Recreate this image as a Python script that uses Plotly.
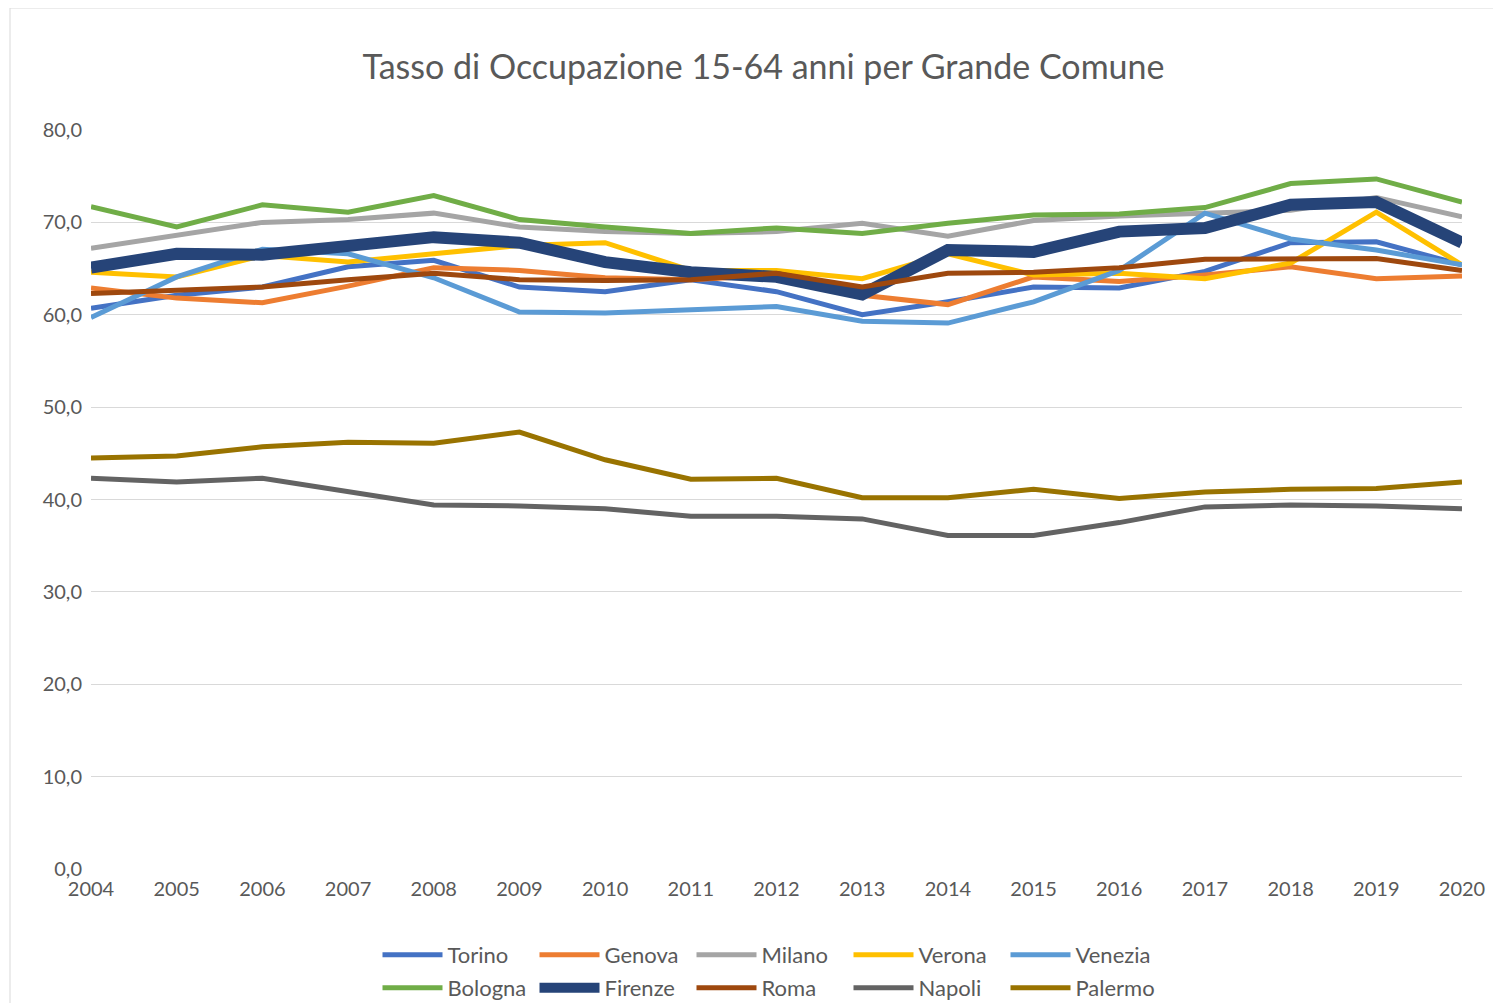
import plotly.graph_objects as go

years = list(range(2004, 2021))

torino  = [60.7, 62.1, 63.0, 65.2, 65.9, 63.0, 62.5, 63.8, 62.5, 60.0, 61.4, 63.0, 62.9, 64.7, 67.8, 67.9, 65.4]
genova  = [62.9, 61.8, 61.3, 63.1, 65.1, 64.8, 64.0, 63.8, 64.3, 62.1, 61.1, 64.1, 63.6, 64.3, 65.2, 63.9, 64.2]
milano  = [67.2, 68.6, 70.0, 70.3, 71.0, 69.5, 69.0, 68.8, 69.0, 69.9, 68.5, 70.2, 70.7, 71.0, 71.3, 72.7, 70.6]
verona  = [64.6, 64.1, 66.4, 65.7, 66.6, 67.5, 67.8, 64.8, 64.8, 63.9, 66.6, 64.3, 64.5, 63.9, 65.6, 71.1, 65.4]
venezia = [59.7, 64.1, 67.1, 66.6, 64.0, 60.3, 60.2, 60.6, 60.9, 59.3, 59.1, 61.4, 64.8, 71.0, 68.2, 67.0, 65.4]
bologna = [71.7, 69.5, 71.9, 71.1, 72.9, 70.3, 69.5, 68.8, 69.4, 68.8, 69.9, 70.8, 70.9, 71.6, 74.2, 74.7, 72.2]
firenze = [65.1, 66.6, 66.5, 67.5, 68.4, 67.8, 65.7, 64.6, 64.1, 62.2, 67.0, 66.8, 69.0, 69.4, 71.9, 72.2, 67.8]
roma    = [62.3, 62.6, 63.0, 63.8, 64.5, 63.8, 63.7, 63.8, 64.5, 63.0, 64.5, 64.6, 65.1, 66.0, 66.1, 66.1, 64.8]
napoli  = [42.3, 41.9, 42.3, 40.9, 39.4, 39.3, 39.0, 38.2, 38.2, 37.9, 36.1, 36.1, 37.5, 39.2, 39.4, 39.3, 39.0]
palermo = [44.5, 44.7, 45.7, 46.2, 46.1, 47.3, 44.3, 42.2, 42.3, 40.2, 40.2, 41.1, 40.1, 40.8, 41.1, 41.2, 41.9]

names  = ["Torino", "Genova", "Milano", "Verona", "Venezia",
          "Bologna", "Firenze", "Roma", "Napoli", "Palermo"]
series = [torino, genova, milano, verona, venezia,
          bologna, firenze, roma, napoli, palermo]
colors = ["#4472C4", "#ED7D31", "#A5A5A5", "#FFC000", "#5B9BD5",
          "#70AD47", "#264478", "#9E480E", "#636363", "#997300"]
widths = [5, 5, 5, 5, 5, 5, 12, 5, 5, 5]

title_text = "Tasso di Occupazione 15-64 anni per Grande Comune"
y_ticks = [0, 10, 20, 30, 40, 50, 60, 70, 80]

W, H = 1501, 1003
OFF = 8  # page body margin
PL, PR, PT, PB = 91 - OFF, 1462 - OFF, 130 - OFF, 869 - OFF
L, R, T, B = PL, W - PR, PT, H - PB
FONT = "Lato"
TXT = "#595959"

fig = go.Figure()
for i, (n, s, c, w) in enumerate(zip(names, series, colors, widths)):
    fig.add_trace(go.Scatter(
        x=years, y=s, name=n, mode="lines",
        line=dict(color=c, width=w),
        legend="legend" if i < 5 else "legend2",
    ))

pw = PR - PL
ph = PB - PT
def px_x(p):
    return (p - OFF - PL) / pw
def px_y(p):
    return (PB - (p - OFF)) / ph

legend_common = dict(
    orientation="h", xanchor="center", x=px_x(770), yanchor="middle",
    font=dict(family=FONT, size=22, color=TXT),
    itemwidth=60, entrywidth=82, entrywidthmode="pixels",
    bgcolor="rgba(0,0,0,0)", tracegroupgap=0,
)

fig.update_layout(
    width=W, height=H,
    margin=dict(l=L, r=R, t=T, b=B, pad=0, autoexpand=False),
    paper_bgcolor="white", plot_bgcolor="white",
    separators=",.",
    title=dict(text=title_text, x=(763.5 - OFF) / W, xanchor="center",
               y=1 - (67 - OFF) / H, yanchor="middle",
               font=dict(family=FONT, size=34, color=TXT)),
    xaxis=dict(range=[2004, 2020], tickmode="array", tickvals=years,
               ticktext=[str(y) for y in years], showgrid=False,
               zeroline=False, showline=False, ticks="",
               tickfont=dict(family=FONT, size=20, color=TXT),
               ticklabelstandoff=6, automargin=False),
    yaxis=dict(range=[0, 80], tickvals=y_ticks, tickformat=".1f",
               showgrid=True, gridcolor="#D9D9D9", gridwidth=1,
               zeroline=False, showline=False, ticks="",
               tickfont=dict(family=FONT, size=20, color=TXT),
               ticklabelstandoff=8, automargin=False),
    legend=dict(legend_common, y=px_y(955)),
    legend2=dict(legend_common, y=px_y(988)),
    shapes=[dict(type="rect", xref="paper", yref="paper",
                 x0=px_x(10), x1=px_x(1530), y0=px_y(1030), y1=px_y(8),
                 line=dict(color="#D9D9D9", width=1), layer="below")],
)

fig.write_html("out.html")
